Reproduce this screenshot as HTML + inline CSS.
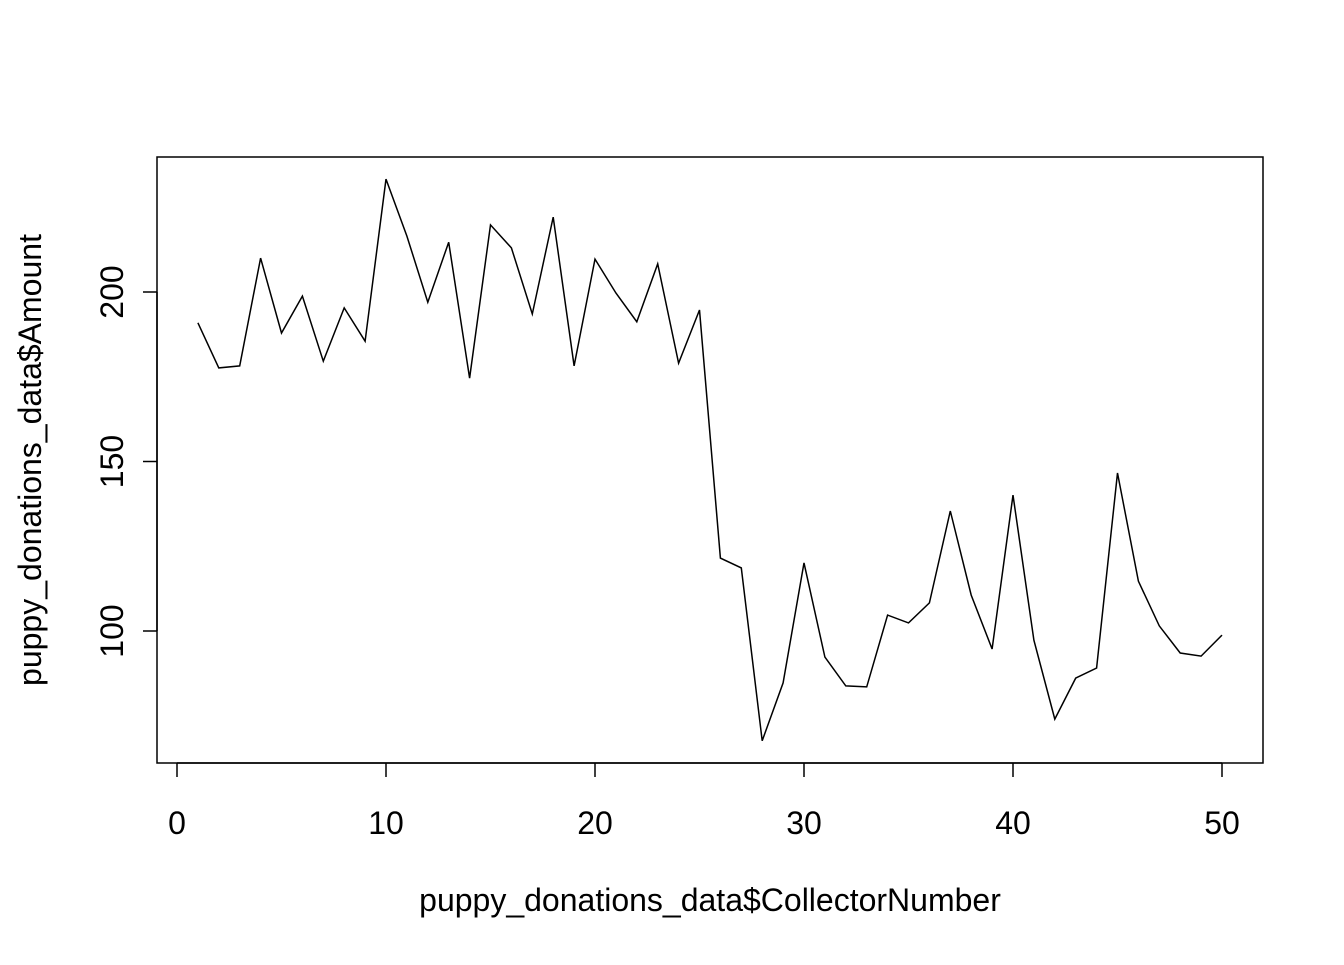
<!DOCTYPE html>
<html><head><meta charset="utf-8"><style>
html,body{margin:0;padding:0;background:#fff;}
svg text{font-family:"Liberation Sans",Arial,sans-serif;font-size:32px;fill:#000;}
</style></head><body>
<svg id="chart" width="1344" height="960" xmlns="http://www.w3.org/2000/svg">
<rect width="1344" height="960" fill="#fff"/>
<rect x="157" y="157" width="1106" height="606" fill="none" stroke="#000" stroke-width="1.5"/>
<g id="xaxis"></g>
<g id="yaxis"></g>
<text x="710" y="911" text-anchor="middle">puppy_donations_data$CollectorNumber</text>
<text transform="translate(41,460) rotate(-90)" text-anchor="middle">puppy_donations_data$Amount</text>
<path id="line" fill="none" stroke="#000" stroke-width="1.5"/>
</svg>
<script>
const collectors = Array.from({length:50},(_,i)=>i+1);
const amounts = [190.9,177.6,178.2,210,187.9,198.8,179.6,195.3,185.5,233.3,
216.5,197,214.7,174.6,219.8,213,193.5,222.1,178.2,209.7,
199.7,191.2,208.3,179,194.7,121.5,118.6,67.6,84.7,120.1,
92.3,83.8,83.5,104.7,102.4,108.3,135.4,110.6,94.7,140.1,
97.3,74,86.1,89.1,146.6,114.7,101.5,93.5,92.6,98.8];
const xTicks = [0,10,20,30,40,50];
const yTicks = [100,150,200];
function xs(v){return 177+(v-0)*(1222-177)/50;}
function ys(v){return 631-(v-100)*(631-292)/100;}
const NS="http://www.w3.org/2000/svg";
const xg=document.getElementById('xaxis'), yg=document.getElementById('yaxis');
function mk(tag,attrs,parent){const e=document.createElementNS(NS,tag);for(const k in attrs)e.setAttribute(k,attrs[k]);parent.appendChild(e);return e;}
const xl=mk('line',{x1:xs(xTicks[0]),x2:xs(xTicks[xTicks.length-1]),y1:763,y2:763,stroke:'#000','stroke-width':1.5},xg);


xTicks.forEach(t=>{
  const l=mk('line',{x1:xs(t),x2:xs(t),y1:763,y2:777,stroke:'#000','stroke-width':1.5},xg);
  
  
  const tx=mk('text',{x:xs(t),y:834,'text-anchor':'middle'},xg);tx.textContent=t;
  
  
});
const yl=mk('line',{x1:157,x2:157,y1:ys(yTicks[0]),y2:ys(yTicks[yTicks.length-1]),stroke:'#000','stroke-width':1.5},yg);


yTicks.forEach(t=>{
  const l=mk('line',{x1:143,x2:157,y1:ys(t),y2:ys(t),stroke:'#000','stroke-width':1.5},yg);
  
  
  const tx=mk('text',{transform:`translate(123,${ys(t)}) rotate(-90)`,'text-anchor':'middle'},yg);tx.textContent=t;
  
  
});
document.getElementById('line').setAttribute('d',amounts.map((v,i)=>(i?'L':'M')+xs(collectors[i]).toFixed(1)+','+ys(v).toFixed(1)).join(''));
</script>
</body></html>
